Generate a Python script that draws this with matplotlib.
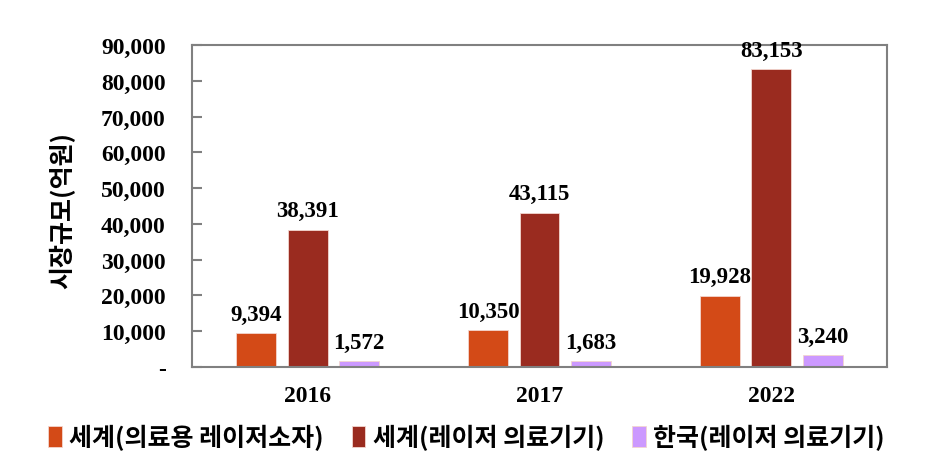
import matplotlib
matplotlib.use("Agg")
import matplotlib.pyplot as plt
import numpy as np
from matplotlib.ticker import FuncFormatter

categories = ["2016", "2017", "2022"]
series_names = ["세계(의료용 레이저소자)", "세계(레이저 의료기기)", "한국(레이저 의료기기)"]
world_source = [9394, 10350, 19928]
world_device = [38391, 43115, 83153]
korea_device = [1572, 1683, 3240]
colors = ["#D34A17", "#9A2B1F", "#CC99FF"]
ylabel = "시장규모(억원)"

serif = ["Liberation Serif", "DejaVu Serif"]
kor = ["Noto Sans CJK KR", "DejaVu Sans"]

fig = plt.figure(figsize=(9.52, 4.64), dpi=100)
ax = fig.add_axes([192/952, 1-368/464, (887-192)/952, (368-46)/464])

x = np.arange(len(categories))
w = 0.172
off = 0.222
series = [world_source, world_device, korea_device]
for i, (vals, c, name) in enumerate(zip(series, colors, series_names)):
    bars = ax.bar(x + (i-1)*off, vals, width=w, color=c, label=name,
                  edgecolor="#f3d6cf", linewidth=0.6)
    for b, v in zip(bars, vals):
        ax.annotate(f"{v:,}", (b.get_x()+b.get_width()/2, v), xytext=(0, 6),
                    textcoords="offset points", ha="center", va="bottom",
                    fontsize=16.5, fontweight="bold", family=serif)

ax.set_xlim(-0.5, 2.5)
ax.set_ylim(0, 90000)
ax.set_yticks(np.arange(0, 90001, 10000))
ax.yaxis.set_major_formatter(FuncFormatter(lambda v, p: "-" if v == 0 else f"{int(v):,}"))
ax.set_xticks(x)
ax.set_xticklabels(categories)
for lab in ax.get_xticklabels() + ax.get_yticklabels():
    lab.set_family(serif)
    lab.set_fontweight("bold")
    lab.set_fontsize(17)
ax.tick_params(axis="y", direction="in", length=7, width=1.5, color="#808080", pad=19)
ax.tick_params(axis="x", length=0, pad=13)
for s in ax.spines.values():
    s.set_color("#808080")
    s.set_linewidth(1.5)

fig.text(62/952, 1-211/464, ylabel, rotation=90, ha="center", va="center",
         fontsize=18, fontweight="bold", family=kor)

leg = fig.legend(loc="center", bbox_to_anchor=(0.49, 0.056), ncol=3, frameon=False,
                 prop={"family": kor, "size": 18, "weight": "bold"},
                 handlelength=0.55, handleheight=0.9, handletextpad=0.3,
                 columnspacing=1.1)

fig.savefig("out.png", dpi=100)
